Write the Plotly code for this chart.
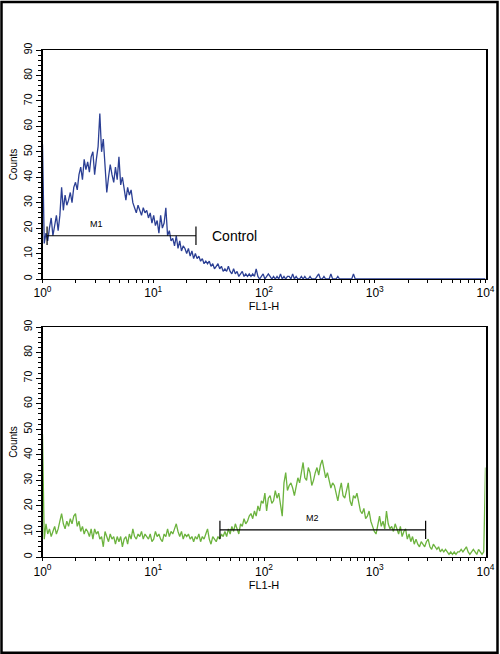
import plotly.graph_objects as go

# channel counts (256 log channels spanning 10^0 .. 10^4)
control_counts = [
    53, 14, 18, 15, 20, 24, 17, 21, 25, 19,   # 0-9
    25, 36, 27, 33, 29, 31, 34, 30, 36, 38,   # 10-19
    35, 41, 44, 39, 47, 43, 46, 42, 48, 50,   # 20-29
    41, 47, 52, 65, 50, 55, 42, 34, 40, 45,   # 30-39
    41, 38, 44, 39, 48, 37, 40, 35, 31, 36,   # 40-49
    33, 35, 30, 28, 26, 29, 27, 25, 28, 26,   # 50-59
    27, 24, 26, 22, 25, 21, 23, 18, 25, 20,   # 60-69
    22, 28, 17, 19, 15, 16, 13, 17, 12, 15,   # 70-79
    11, 13, 12, 10, 12, 9, 11, 8, 10, 8,      # 80-89
    9, 7, 8, 6, 7, 6, 7, 5, 6, 4,             # 90-99
    5, 6, 4, 5, 3, 4, 3, 5, 3, 2,             # 100-109
    4, 2, 3, 1, 2, 3, 1, 2, 1, 2,             # 110-119
    1, 2, 1, 4, 1, 0, 1, 2, 0, 1,             # 120-129
    2, 1, 0, 1, 0, 1, 0, 2, 0, 1,             # 130-139
    0, 1, 1, 0, 2, 0, 1, 0, 0, 1,             # 140-149
    0, 1, 0, 0, 1, 0, 0, 0, 1, 2,             # 150-159
    0, 0, 1, 0, 0, 0, 2, 0, 0, 0,             # 160-169
    1, 0, 0, 0, 0, 0, 0, 0, 0, 2,             # 170-179
    0, 0, 0, 0, 0, 0, 0, 0, 0, 0,             # 180-189
    0, 0, 0, 0, 0, 0, 0, 0, 0, 0,             # 190-199
    0, 0, 0, 0, 0, 0, 0, 0, 0, 0,             # 200-209
    0, 0, 0, 0, 0, 0, 0, 0, 0, 0,             # 210-219
    0, 0, 0, 0, 0, 0, 0, 0, 0, 0,             # 220-229
    0, 0, 0, 0, 0, 0, 0, 0, 0, 0,             # 230-239
    0, 0, 0, 0, 0, 0, 0, 0, 0, 0,             # 240-249
    0, 0, 0, 0, 0, 0,                         # 250-255
]

sample_counts = [
    48, 7, 13, 9, 11, 8, 10, 12, 9, 11,       # 0-9
    14, 17, 13, 11, 14, 12, 15, 13, 16, 17,   # 10-19
    12, 14, 10, 12, 9, 11, 10, 8, 11, 7,      # 20-29
    11, 9, 10, 7, 8, 4, 10, 8, 6, 9,          # 30-39
    7, 8, 5, 8, 6, 8, 4, 7, 8, 5,             # 40-49
    9, 7, 11, 8, 7, 9, 8, 10, 7, 9,           # 50-59
    8, 7, 9, 6, 7, 10, 8, 9, 7, 6,            # 60-69
    9, 8, 11, 8, 10, 9, 11, 13, 10, 8,        # 70-79
    10, 7, 9, 8, 9, 7, 8, 6, 8, 7,            # 80-89
    9, 6, 8, 7, 9, 11, 7, 5, 8, 7,            # 90-99
    6, 8, 7, 9, 8, 10, 8, 11, 9, 12,          # 100-109
    10, 13, 11, 9, 13, 12, 15, 13, 14, 16,    # 110-119
    17, 15, 18, 16, 20, 18, 22, 21, 25, 18,   # 120-129
    23, 24, 21, 22, 26, 23, 25, 20, 16, 29,   # 130-139
    33, 26, 28, 29, 27, 24, 28, 31, 29, 33,   # 140-149
    37, 31, 30, 35, 33, 28, 30, 33, 35, 32,   # 150-159
    36, 38, 34, 31, 33, 30, 27, 29, 28, 25,   # 160-169
    22, 26, 29, 24, 23, 26, 29, 22, 20, 24,   # 170-179
    23, 25, 21, 18, 17, 19, 15, 16, 18, 14,   # 180-189
    12, 10, 9, 13, 16, 12, 14, 11, 18, 13,    # 190-199
    11, 12, 10, 13, 11, 9, 12, 8, 10, 11,     # 200-209
    7, 9, 6, 8, 5, 7, 5, 4, 6, 5,             # 210-219
    4, 6, 7, 4, 3, 5, 4, 3, 4, 2,             # 220-229
    3, 2, 3, 2, 1, 2, 1, 2, 1, 2,             # 230-239
    2, 3, 2, 3, 4, 2, 1, 2, 3, 2,             # 240-249
    1, 3, 2, 1, 2, 35,                        # 250-255
]

decades = [1, 10, 100, 1000, 10000]
decade_labels = ["10<sup>0</sup>", "10<sup>1</sup>", "10<sup>2</sup>", "10<sup>3</sup>", "10<sup>4</sup>"]

# marker gates (start, end, level)
m1_range = [1.1, 24.3]
m1_level = 17
m2_range = [40, 2880]
m2_level = 10.6

blue = "#2b3f94"
green = "#6cb33e"
font = "Arial, Liberation Sans, sans-serif"

channels = list(range(len(control_counts)))
fl1 = [10 ** (c * 4 / 255) for c in channels]

# unlabelled log ticks at 2..9 of each decade
minor_ticks = [d * m for d in decades[:-1] for m in range(2, 10)]


def gate(rng, level, h=3.6):
    a, b = rng
    xs = [a, a, None, a, b, None, b, b]
    ys = [level + h, level - h, None, level, level, None, level + h, level - h]
    return xs, ys


fig = go.Figure()

fig.add_trace(go.Scatter(x=fl1, y=control_counts, mode="lines", line=dict(color=blue, width=1.3),
                         xaxis="x", yaxis="y", showlegend=False))
gx, gy = gate(m1_range, m1_level)
fig.add_trace(go.Scatter(x=gx, y=gy, mode="lines", line=dict(color="black", width=1.2),
                         xaxis="x", yaxis="y", showlegend=False))

fig.add_trace(go.Scatter(x=fl1, y=sample_counts, mode="lines", line=dict(color=green, width=1.3),
                         xaxis="x2", yaxis="y2", showlegend=False))
gx, gy = gate(m2_range, m2_level)
fig.add_trace(go.Scatter(x=gx, y=gy, mode="lines", line=dict(color="black", width=1.2),
                         xaxis="x2", yaxis="y2", showlegend=False))

xax = dict(type="log", range=[0, 4], domain=[0.085, 0.971], tickmode="array", tickvals=decades,
           ticktext=decade_labels, ticks="outside", ticklen=3, tickwidth=1, tickcolor="black",
           minor=dict(tickmode="array", tickvals=minor_ticks, ticks="outside", ticklen=3, tickcolor="black",
                      showgrid=False),
           showline=True, linecolor="black", linewidth=1.2, mirror=True, showgrid=False, zeroline=False,
           automargin=False, tickfont=dict(family=font, size=12, color="black"),
           title=dict(text="FL1-H", font=dict(family=font, size=11, color="black"), standoff=0))
yax = dict(range=[0, 90], tickmode="linear", tick0=0, dtick=10, ticks="outside", ticklen=5, tickwidth=1,
           tickcolor="black", tickangle=-90, showline=True, linecolor="black", linewidth=1.5, mirror=True,
           showgrid=False, zeroline=False, automargin=False, tickfont=dict(family=font, size=10.5, color="black"),
           minor=dict(ticks="outside", dtick=2, ticklen=3, tickcolor="black", showgrid=False),
           title=dict(text="Counts", font=dict(family=font, size=10, color="black"), standoff=2))

fig.update_layout(
    width=500, height=654,
    margin=dict(l=0, r=0, t=0, b=0, autoexpand=False),
    paper_bgcolor="white", plot_bgcolor="white",
    xaxis=dict(xax, anchor="y"),
    yaxis=dict(yax, domain=[0.5734, 0.9235], anchor="x"),
    xaxis2=dict(xax, anchor="y2"),
    yaxis2=dict(yax, domain=[0.1483, 0.5], anchor="x2"),
    showlegend=False,
)

fig.add_annotation(x=0.49, y=m1_level + 2, xref="x", yref="y", text="M1", showarrow=False,
                   yanchor="bottom", font=dict(family=font, size=9, color="black"))
fig.add_annotation(x=1.51, y=m1_level, xref="x", yref="y", text="Control", showarrow=False,
                   xanchor="left", font=dict(family=font, size=14, color="black"))
fig.add_annotation(x=2.44, y=m2_level + 2, xref="x2", yref="y2", text="M2", showarrow=False,
                   yanchor="bottom", font=dict(family=font, size=9, color="black"))

# outer frame around the whole figure
fig.add_shape(type="rect", xref="paper", yref="paper", x0=0.003, x1=0.995, y0=0.002, y1=0.997,
              line=dict(color="black", width=2.5))

fig.write_html("out.html", config={"displayModeBar": False},
               post_script="document.body.style.margin='0';document.body.style.overflow='hidden';")
